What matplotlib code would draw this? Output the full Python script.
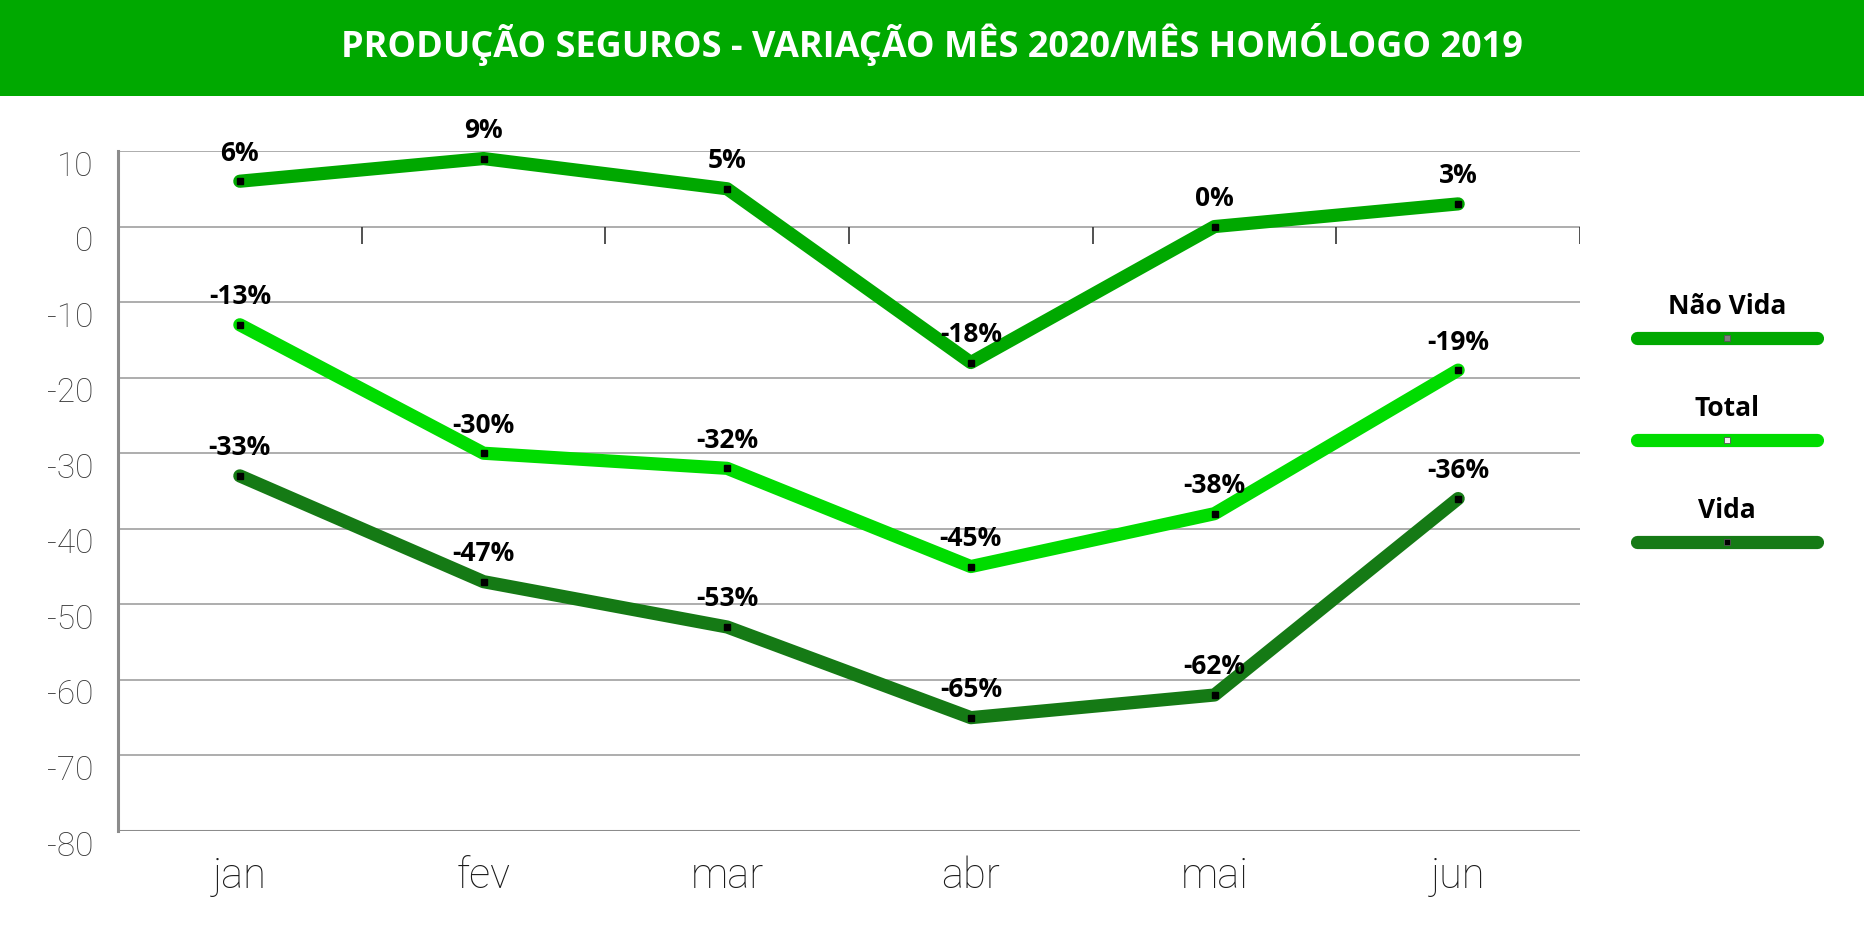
import matplotlib
matplotlib.use('Agg')
import matplotlib.pyplot as plt
from matplotlib.lines import Line2D
from matplotlib.patches import Rectangle
from matplotlib.transforms import ScaledTranslation

TITLE = 'PRODUÇÃO SEGUROS - VARIAÇÃO MÊS 2020/MÊS HOMÓLOGO 2019'
MONTHS = ['jan', 'fev', 'mar', 'abr', 'mai', 'jun']
SERIES_NAMES = ['Não Vida', 'Total', 'Vida']
NAO_VIDA = [6, 9, 5, -18, 0, 3]
TOTAL = [-13, -30, -32, -45, -38, -19]
VIDA = [-33, -47, -53, -65, -62, -36]
Y_TICKS = [10, 0, -10, -20, -30, -40, -50, -60, -70, -80]

COLORS = {'Não Vida': '#00a800', 'Total': '#00dc00', 'Vida': '#157a15'}
LEGEND_MARKER = {'Não Vida': '#7f7f7f', 'Total': '#f0f0f0', 'Vida': '#000000'}

W, H, DPI = 1864, 934, 100
BOLD_FONT = ['Open Sans', 'DejaVu Sans']
LIGHT_FONT = ['Roboto', 'DejaVu Sans']

fig = plt.figure(figsize=(W / DPI, H / DPI), dpi=DPI)
fig.patch.set_facecolor('white')

# header band
fig.add_artist(Rectangle((0, 1 - 96 / H), 1, 96 / H, transform=fig.transFigure,
                         facecolor='#00a900', edgecolor='none'))
fig.text(0.5, 1 - 45 / H, TITLE, ha='center', va='center', color='white',
         fontsize=26, fontweight='bold', family=BOLD_FONT)

# plot area in pixels: x 118..1580, y 151..831
ax = fig.add_axes([118 / W, (H - 831) / H, 1462 / W, 680 / H])
ax.set_xlim(-0.5, len(MONTHS) - 0.5)
ax.set_ylim(-80, 10)

for yv in Y_TICKS:
    if yv == -80:
        ax.axhline(yv, color='#8c8c8c', lw=2.2, zorder=1)
    else:
        ax.axhline(yv, color='#a0a0a0', lw=1.2, zorder=1)

# category axis at zero with tick marks between categories
for i in range(len(MONTHS)):
    ax.plot([i + 0.5, i + 0.5], [0, -2.3], color='#333333', lw=1.2, zorder=1,
            solid_capstyle='butt')

for spine in ['top', 'right', 'bottom']:
    ax.spines[spine].set_visible(False)
ax.spines['left'].set_color('#8c8c8c')
ax.spines['left'].set_linewidth(2.2)

x = list(range(len(MONTHS)))
for name, vals in zip(SERIES_NAMES, [NAO_VIDA, TOTAL, VIDA]):
    ax.plot(x, vals, color=COLORS[name], lw=9.5, solid_capstyle='round',
            solid_joinstyle='round', zorder=3)
    ax.plot(x, vals, linestyle='none', marker='s', markersize=4.5,
            color='black', zorder=4)
    for xi, v in zip(x, vals):
        ax.annotate(f'{v}%', (xi, v), xytext=(0, 28), textcoords='offset pixels',
                    ha='center', va='center', fontsize=19, fontweight='bold',
                    family=BOLD_FONT, color='black', zorder=5)

ax.set_yticks(Y_TICKS)
ax.set_yticklabels([str(v) for v in Y_TICKS], family=LIGHT_FONT,
                   fontweight='light', fontsize=24, color='#3a3a3a')
ax.tick_params(axis='y', length=0, pad=18)
offset = ScaledTranslation(0, -12 / DPI, fig.dpi_scale_trans)
for lab in ax.get_yticklabels():
    lab.set_transform(lab.get_transform() + offset)

ax.set_xticks(x)
ax.set_xticklabels(MONTHS, family=LIGHT_FONT, fontweight='light',
                   fontsize=30, color='#1a1a1a')
ax.tick_params(axis='x', length=0, pad=18)

# legend drawn at right
leg_cx = 1727
for name, ty, ly in zip(SERIES_NAMES, [307, 408, 510], [338, 440, 542]):
    fig.text(leg_cx / W, 1 - ty / H, name, ha='center', va='center',
             fontsize=19, fontweight='bold', family=BOLD_FONT, color='black')
    fig.add_artist(Line2D([1637 / W, 1817 / W], [1 - ly / H, 1 - ly / H],
                          transform=fig.transFigure, color=COLORS[name], lw=9.5,
                          solid_capstyle='round'))
    fig.add_artist(Line2D([leg_cx / W], [1 - ly / H], transform=fig.transFigure,
                          marker='s', markersize=5, color=LEGEND_MARKER[name],
                          markeredgecolor='#555555', markeredgewidth=0.6,
                          linestyle='none'))

fig.savefig('out.png', dpi=DPI)
